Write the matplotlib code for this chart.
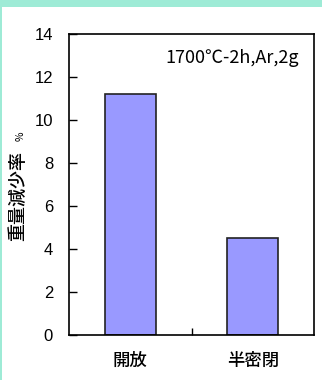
import matplotlib.pyplot as plt
from matplotlib.patches import Rectangle

plt.rcParams['font.family'] = ['Noto Sans CJK JP', 'DejaVu Sans']

# データ
labels = ['開放', '半密閉']
loss = [11.2, 4.5]
yticks = [0, 2, 4, 6, 8, 10, 12, 14]

W, H = 322, 380
fig = plt.figure(figsize=(W / 100, H / 100), dpi=100)
fig.patch.set_facecolor('white')

# 枠の緑色の帯
teal = '#9eebd6'
fig.patches.append(Rectangle((0, 1 - 7 / H), 1, 7 / H, transform=fig.transFigure,
                             facecolor=teal, edgecolor='none', zorder=0))
fig.patches.append(Rectangle((0, 0), 1.5 / W, 1, transform=fig.transFigure,
                             facecolor=teal, edgecolor='none', zorder=0))

left, right, top, bottom = 69, 314, 34, 335
ax = fig.add_axes([left / W, 1 - bottom / H, (right - left) / W, (bottom - top) / H])

x = range(len(labels))
ax.bar(x, loss, width=0.42, color='#9999ff', edgecolor='#222222', linewidth=1.2)

ax.set_xlim(-0.5, 1.5)
ax.set_ylim(0, 14)
ax.set_yticks(yticks)
ax.set_yticklabels([str(v) for v in yticks], family='Liberation Sans')
ax.set_xticks([0.5])
ax.set_xticklabels([''])
ax.tick_params(axis='y', direction='in', length=6, width=1, labelsize=12, pad=11.5)
ax.tick_params(axis='x', direction='in', length=5, width=1)
for s in ax.spines.values():
    s.set_linewidth(1.2)

for i, lab in enumerate(labels):
    ax.text(i, -0.086, lab, transform=ax.get_xaxis_transform(),
            ha='center', va='center', fontsize=12.5, fontweight='medium')

fig.text(232 / W, 1 - 58 / H, '1700℃-2h,Ar,2g',
         ha='center', va='center', fontsize=13)

# 縦軸ラベル
fig.text(18 / W, 1 - 196 / H, '重量減少率', rotation=90,
         ha='center', va='center', fontsize=13, fontweight='medium')
fig.text(21 / W, 1 - 136 / H, '%', rotation=90,
         ha='center', va='center', fontsize=7.5)

fig.savefig('out.png', dpi=100)
